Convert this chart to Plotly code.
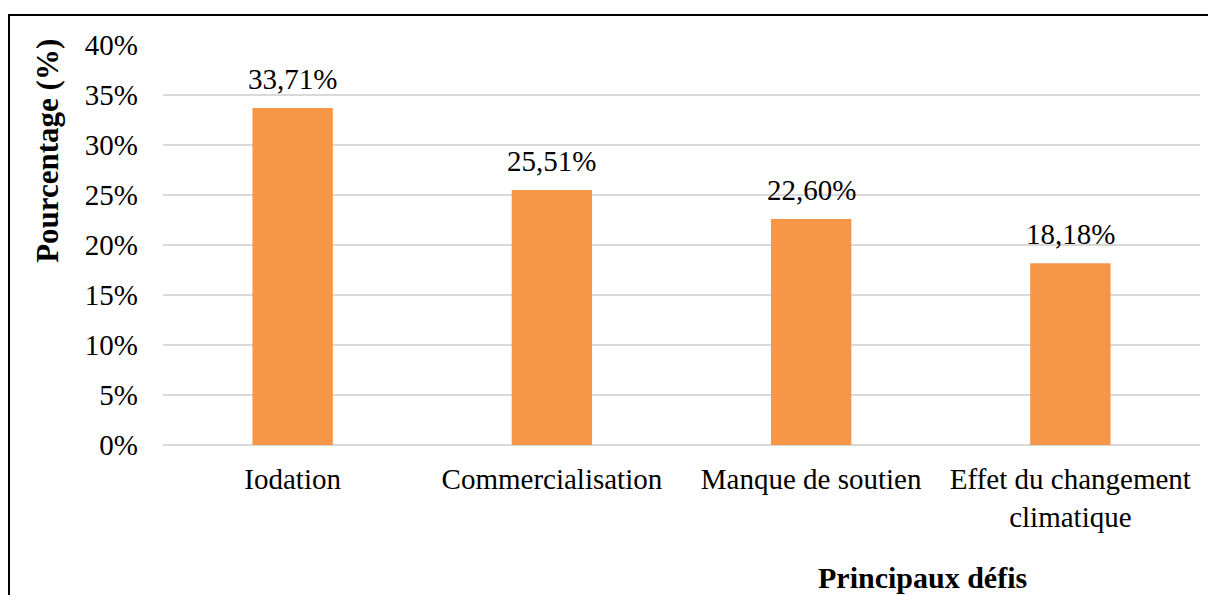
import plotly.graph_objects as go

categories = ["Iodation", "Commercialisation", "Manque de soutien", "Effet du changement<br>climatique"]
values = [33.71, 25.51, 22.60, 18.18]
tick_vals = [0, 5, 10, 15, 20, 25, 30, 35, 40]
tick_text = ["0%", "5%", "10%", "15%", "20%", "25%", "30%", "35%", "40%"]

FONT = "Liberation Serif, Times New Roman, serif"
FS = 29

fig = go.Figure()
fig.add_trace(go.Bar(
    x=categories, y=values,
    marker=dict(color="#F79646", line=dict(width=0)),
    width=0.31,
    hoverinfo="skip",
))

for c, v in zip(categories, values):
    fig.add_annotation(
        x=c, y=v, xref="x", yref="y",
        text=f"{v:.2f}".replace(".", ",") + "%",
        showarrow=False, yanchor="bottom", yshift=11,
        font=dict(family=FONT, size=FS, color="#000000"),
    )

fig.add_annotation(
    x=-0.112, y=0.735, xref="paper", yref="paper",
    text="<b>Pourcentage (%)</b>", textangle=-90,
    showarrow=False, xanchor="center", yanchor="middle",
    font=dict(family=FONT, size=31, color="#000000"),
)
fig.add_annotation(
    x=0.732, y=-0.33, xref="paper", yref="paper",
    text="<b>Principaux défis</b>",
    showarrow=False, xanchor="center", yanchor="middle",
    font=dict(family=FONT, size=30, color="#000000"),
)

# chart border (right and bottom edges fall outside the visible area)
fig.add_shape(
    type="rect", xref="paper", yref="paper",
    x0=-0.1485, x1=1.03, y0=-0.45, y1=1.075,
    line=dict(color="#000000", width=2), fillcolor="rgba(0,0,0,0)",
    layer="below",
)

fig.update_layout(
    width=1216, height=595,
    margin=dict(l=155, r=24, t=37, b=158),
    paper_bgcolor="white", plot_bgcolor="white",
    showlegend=False,
    font=dict(family=FONT, size=FS, color="#000000"),
)
fig.update_xaxes(
    showgrid=False, showline=False, ticks="",
    tickfont=dict(family=FONT, size=FS, color="#000000"),
    ticklabelstandoff=14,
)
fig.update_yaxes(
    range=[0, 40], tickvals=tick_vals, ticktext=tick_text,
    showgrid=True, gridcolor="#D9D9D9", gridwidth=2,
    zeroline=True, zerolinecolor="#D9D9D9", zerolinewidth=2,
    showline=False, ticks="",
    tickfont=dict(family=FONT, size=FS, color="#000000"),
    ticklabelstandoff=24,
)

fig.write_html("out.html")
